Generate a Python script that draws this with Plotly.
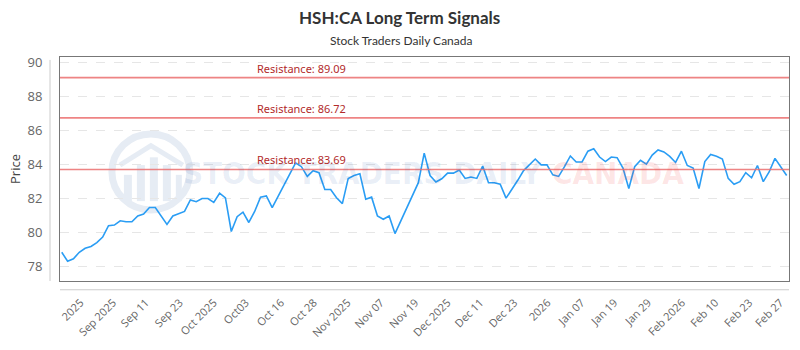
import plotly.graph_objects as go

# ---- data ----
prices = [
    78.82, 78.29, 78.44, 78.82, 79.05, 79.16, 79.39, 79.71, 80.38, 80.42,
    80.67, 80.61, 80.61, 80.95, 81.07, 81.45, 81.45, 80.95, 80.46, 80.95,
    81.10, 81.22, 81.90, 81.79, 81.98, 81.98, 81.75, 82.29, 82.02, 80.04,
    80.91, 81.18, 80.57, 81.22, 82.06, 82.13, 81.45, 82.10, 82.76, 83.43,
    84.08, 83.85, 83.28, 83.62, 83.50, 82.51, 82.51, 82.02, 81.68, 83.16,
    83.33, 83.43, 81.94, 82.06, 80.95, 80.76, 80.95, 79.92, 80.67, 81.40,
    82.17, 82.91, 84.65, 83.33, 82.95, 83.14, 83.47, 83.47, 83.66, 83.16,
    83.24, 83.16, 83.89, 82.91, 82.91, 82.82, 82.00, 82.51, 83.05, 83.62,
    83.96, 84.30, 83.96, 83.96, 83.37, 83.28, 83.85, 84.48, 84.13, 84.13,
    84.76, 84.91, 84.42, 84.15, 84.42, 84.38, 83.77, 82.57, 83.85, 84.23,
    84.00, 84.53, 84.84, 84.72, 84.46, 84.10, 84.76, 83.92, 83.77, 82.57,
    84.15, 84.57, 84.46, 84.30, 83.16, 82.82, 82.97, 83.50, 83.20, 83.92,
    82.97, 83.54, 84.34, 83.85, 83.33,
]
x_index = list(range(len(prices)))

tick_labels = [
    "2025", "Sep 2025", "Sep 11", "Sep 23", "Oct 2025", "Oct03", "Oct 16",
    "Oct 28", "Nov 2025", "Nov 07", "Nov 19", "Dec 2025", "Dec 11", "Dec 23",
    "2026", "Jan 07", "Jan 19", "Jan 29", "Feb 2026", "Feb 10", "Feb 23", "Feb 27",
]
tick_index = [
    3.2, 8.8, 14.4, 20.2, 26.0, 31.5, 37.5, 43.1, 48.9, 54.6, 60.5,
    66.0, 71.6, 77.4, 83.1, 88.9, 94.5, 100.3, 106.1, 111.8, 117.6, 122.9,
]
resistance_levels = [89.09, 86.72, 83.69]
y_ticks = [78, 80, 82, 84, 86, 88, 90]

TITLE = "HSH:CA Long Term Signals"
SUBTITLE = "Stock Traders Daily Canada"

fig = go.Figure()
fig.add_trace(go.Scatter(
    x=x_index, y=prices, mode="lines",
    line=dict(color="#2a9df4", width=1.6),
    hoverinfo="skip", showlegend=False,
))

shapes = []
annotations = []

# watermark logo (faint)
wm = "#e6ecf4"
shapes.append(dict(type="circle", xref="paper", yref="paper",
                   x0=(112 - 60) / 730, x1=(190 - 60) / 730,
                   y0=(287 - 214) / 230, y1=(287 - 136) / 230,
                   line=dict(color=wm, width=7), layer="below"))
for (bx0, bx1, by0) in [(124, 132, 178), (137, 145, 168), (150, 158, 160), (163, 171, 168), (176, 182, 178)]:
    shapes.append(dict(type="rect", xref="paper", yref="paper",
                       x0=(bx0 - 60) / 730, x1=(bx1 - 60) / 730,
                       y0=(287 - 205) / 230, y1=(287 - by0) / 230,
                       line=dict(width=0), fillcolor=wm, layer="below"))
shapes.append(dict(type="path", xref="paper", yref="paper",
                   path="M {:.4f},{:.4f} L {:.4f},{:.4f} L {:.4f},{:.4f}".format(
                       (120 - 60) / 730, (287 - 168) / 230,
                       (151 - 60) / 730, (287 - 148) / 230,
                       (183 - 60) / 730, (287 - 168) / 230),
                   line=dict(color=wm, width=5), layer="below"))

wm_font = "Liberation Sans Narrow, DejaVu Sans Condensed, Roboto"
annotations.append(dict(
    text="STOCK TRADERS DAILY", xref="paper", yref="paper",
    x=(545 - 60) / 730, y=(287 - 176) / 230, xanchor="right", yanchor="middle",
    showarrow=False,
    font=dict(family=wm_font, size=31, color="rgba(40,90,170,0.10)", weight="bold")))
annotations.append(dict(
    text="CANADA", xref="paper", yref="paper",
    x=(551 - 60) / 730, y=(287 - 176) / 230, xanchor="left", yanchor="middle",
    showarrow=False,
    font=dict(family=wm_font, size=31, color="rgba(240,60,60,0.13)", weight="bold")))

# resistance lines
for lvl in resistance_levels:
    shapes.append(dict(type="line", xref="paper", yref="y", x0=0, x1=1, y0=lvl, y1=lvl,
                       line=dict(color="rgba(235,110,110,0.85)", width=1.6), layer="above"))
    annotations.append(dict(text=f"Resistance: {lvl:.2f}", xref="paper", yref="y",
                            x=(255 - 60) / 730, y=lvl, xanchor="left", yanchor="bottom",
                            yshift=0, showarrow=False,
                            font=dict(family="Noto Sans, Open Sans", size=11, color="#b22a2a")))

# offset axis lines
shapes.append(dict(type="line", xref="paper", yref="paper", x0=-10 / 730, x1=-10 / 730,
                   y0=0, y1=(287 - 60) / 230, line=dict(color="#cccccc", width=1)))
shapes.append(dict(type="line", xref="paper", yref="paper", x0=0, x1=1,
                   y0=-9 / 230, y1=-9 / 230, line=dict(color="#cccccc", width=1)))

# titles
annotations.append(dict(text=f"<b>{TITLE}</b>", xref="paper", yref="paper",
                        x=(400 - 60) / 730, y=(287 - 16) / 230, xanchor="center", yanchor="middle",
                        showarrow=False, font=dict(family="Lato, Open Sans", size=17, color="#333333")))
annotations.append(dict(text=SUBTITLE, xref="paper", yref="paper",
                        x=(401 - 60) / 730, y=(287 - 40) / 230, xanchor="center", yanchor="middle",
                        showarrow=False, font=dict(family="Lato, Open Sans", size=12, color="#333333")))

fig.update_layout(
    width=800, height=350,
    margin=dict(l=60, r=10, t=57, b=63),
    paper_bgcolor="white", plot_bgcolor="white",
    shapes=shapes, annotations=annotations,
    showlegend=False,
    font=dict(family="Open Sans, Noto Sans", color="#666666"),
)
fig.update_xaxes(
    range=[-0.3, 124.4], showgrid=False, zeroline=False,
    showline=True, mirror=True, linecolor="#777777", linewidth=1,
    tickmode="array", tickvals=tick_index, ticktext=tick_labels,
    tickangle=-45, ticks="", ticklabelstandoff=10,
    tickfont=dict(size=11, color="#666666"),
)
fig.update_yaxes(
    range=[77.13, 90.3], zeroline=False,
    showline=True, mirror=True, linecolor="#777777", linewidth=1,
    tickmode="array", tickvals=y_ticks,
    showgrid=True, gridcolor="#e6e6e6", griddash="dash", gridwidth=1,
    ticks="", ticklabelstandoff=14,
    tickfont=dict(size=13, color="#666666"),
    title=dict(text="Price", font=dict(size=13, color="#444444"), standoff=3),
)

fig.write_html("out.html")
